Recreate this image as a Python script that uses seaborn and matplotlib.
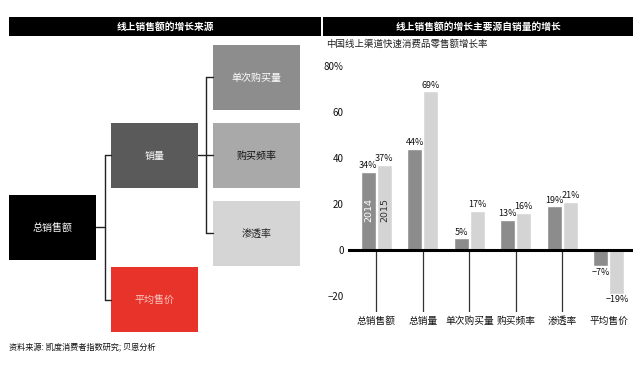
import numpy as np
import pandas as pd
import matplotlib
matplotlib.use("Agg")
import matplotlib.pyplot as plt
from matplotlib.patches import Rectangle
import seaborn as sns

# ---------------- data ----------------
categories = ["总销售额", "总销量", "单次购买量", "购买频率", "渗透率", "平均售价"]
years = ["2014", "2015"]
growth_2014 = [34, 44, 5, 13, 19, -7]
growth_2015 = [37, 69, 17, 16, 21, -19]
yticks = [-20, 0, 20, 40, 60, 80]
ytick_labels = ["−20", "0", "20", "40", "60", "80%"]

left_title = "线上销售额的增长来源"
right_title = "线上销售额的增长主要源自销量的增长"
subtitle = "中国线上渠道快速消费品零售额增长率"
source = "资料来源: 凯度消费者指数研究; 贝恩分析"

# ---------------- style ----------------
sns.set_style("white")
plt.rcParams["font.family"] = ["Noto Sans CJK SC", "DejaVu Sans"]
plt.rcParams["axes.unicode_minus"] = True

W, H = 640, 372
fig = plt.figure(figsize=(W / 100, H / 100), dpi=100)
fig.patch.set_facecolor("white")

# overlay in pixel coordinates for the diagram / headers
bg = fig.add_axes([0, 0, 1, 1])
bg.set_xlim(0, W)
bg.set_ylim(H, 0)
bg.axis("off")


def box(x0, y0, x1, y1, fc, text, tc, fs=7.2, weight="normal"):
    bg.add_patch(Rectangle((x0, y0), x1 - x0, y1 - y0, facecolor=fc, edgecolor="none"))
    bg.text((x0 + x1) / 2, (y0 + y1) / 2, text, color=tc, fontsize=fs,
            ha="center", va="center", fontweight=weight)


# header bars
box(9, 17, 321, 36, "black", left_title, "white", 7, "bold")
box(323, 17, 633, 36, "black", right_title, "white", 7, "bold")

# diagram boxes
box(213, 45, 300, 110, "#8d8d8d", "单次购买量", "white")
box(213, 123, 300, 188, "#a9a9a9", "购买频率", "#111111")
box(213, 201, 300, 266, "#d5d5d5", "渗透率", "#222222")
box(111, 123, 198, 188, "#5a5a5a", "销量", "white")
box(9, 195, 96, 260, "black", "总销售额", "white")
box(111, 267, 198, 332, "#e8332b", "平均售价", "#f9c9c3")

lc = "#222222"
lw = 1.0
# connectors from 总销售额
bg.plot([96, 105], [227, 227], color=lc, lw=lw)
bg.plot([105, 105], [155, 300], color=lc, lw=lw)
bg.plot([105, 111], [155, 155], color=lc, lw=lw)
bg.plot([105, 111], [300, 300], color=lc, lw=lw)
# connectors from 销量
bg.plot([198, 213], [155, 155], color=lc, lw=lw)
bg.plot([206, 206], [77, 233], color=lc, lw=lw)
bg.plot([206, 213], [77, 77], color=lc, lw=lw)
bg.plot([206, 213], [233, 233], color=lc, lw=lw)

bg.text(9, 348, source, fontsize=5.9, ha="left", va="center", color="#111111")
bg.text(326, 44, subtitle, fontsize=6.8, ha="left", va="center", color="#222222")

# ---------------- bar chart ----------------
df = pd.DataFrame({
    "类别": categories * 2,
    "年份": [years[0]] * len(categories) + [years[1]] * len(categories),
    "增长率": growth_2014 + growth_2015,
})

ax = fig.add_axes([348 / W, 1 - 312 / H, (633 - 348) / W, (312 - 61.4) / H])
ax.patch.set_alpha(0)
sns.barplot(data=df, x="类别", y="增长率", hue="年份",
            palette=["#8c8c8c", "#d4d4d4"], saturation=1,
            width=0.69, gap=0.06, legend=False, ax=ax)

ax.set_xlim(-0.61, 5.52)
ax.set_ylim(-27, 82)

for cont, vals in zip(ax.containers, [growth_2014, growth_2015]):
    labels = [f"{v}%".replace("-", "−") for v in vals]
    ax.bar_label(cont, labels=labels, padding=1.2, fontsize=6.5, color="#111111")

# year labels inside first group
for cont, yr, col in zip(ax.containers, years, ["white", "#333333"]):
    b = cont[0]
    ax.text(b.get_x() + b.get_width() / 2, 17.5, yr, rotation=90,
            ha="center", va="center", fontsize=6.8, color=col,
            family="DejaVu Sans")

# zero line and leader lines
ax.axhline(0, color="black", lw=2.2, zorder=5)
line_x = [i for i, (a, b) in enumerate(zip(growth_2014, growth_2015)) if min(a, b) >= 0]
ax.vlines(line_x, -27, 0, color="#333333", lw=0.9, zorder=4)

ax.set_yticks(yticks, ytick_labels)
ax.tick_params(axis="y", length=0, pad=3, labelsize=7, labelcolor="#111111")
ax.tick_params(axis="x", length=0, pad=3, labelsize=7, labelcolor="#111111")
ax.set_xlabel("")
ax.set_ylabel("")
sns.despine(ax=ax, left=True, bottom=True)
ax.grid(False)

fig.savefig("out.png", dpi=100, facecolor="white")
